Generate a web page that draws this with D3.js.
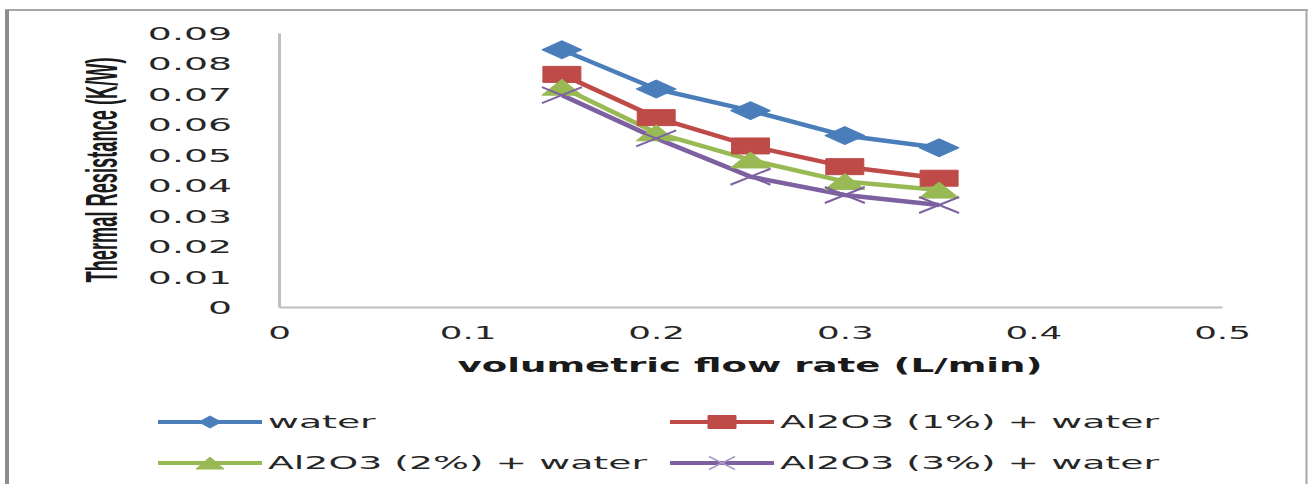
<!DOCTYPE html>
<html><head><meta charset="utf-8">
<script src="https://cdn.jsdelivr.net/npm/d3@7"></script>
<style>html,body{margin:0;padding:0;background:#fff;}svg{display:block;}</style>
</head><body>
<script>
// ---- data ----
const flowRates = [0.15, 0.20, 0.25, 0.30, 0.35];
const seriesNames = ["water", "Al2O3 (1%) + water", "Al2O3 (2%) + water", "Al2O3 (3%) + water"];
const waterValues = [0.0845, 0.0716, 0.0645, 0.0563, 0.0523];
const al1Values   = [0.0764, 0.0622, 0.0529, 0.0461, 0.0423];
const al2Values   = [0.0722, 0.0572, 0.0483, 0.0412, 0.0384];
const al3Values   = [0.0696, 0.0554, 0.0428, 0.0368, 0.0335];
const xTicks = [0, 0.1, 0.2, 0.3, 0.4, 0.5];
const yTicks = [0, 0.01, 0.02, 0.03, 0.04, 0.05, 0.06, 0.07, 0.08, 0.09];
const xTitle = "volumetric flow rate (L/min)";
const yTitle = "Thermal Resistance (K/W)";

const W = 1308, H = 484;
const colors = ["#4A7EBB", "#BE4B48", "#98B954", "#7D60A0"];
const markers = ["diamond", "square", "triangle", "x"];
const allValues = [waterValues, al1Values, al2Values, al3Values];

const svg = d3.select("body").append("svg").attr("width", W).attr("height", H);
svg.append("rect").attr("width", W).attr("height", H).attr("fill", "#fff");

// outer border
svg.append("line").attr("x1", 5).attr("x2", W).attr("y1", 10).attr("y2", 10).attr("stroke", "#a6a6a6").attr("stroke-width", 2);
svg.append("line").attr("x1", 7).attr("x2", 7).attr("y1", 10).attr("y2", H).attr("stroke", "#8c8c8c").attr("stroke-width", 4);
svg.append("line").attr("x1", 1306.5).attr("x2", 1306.5).attr("y1", 10).attr("y2", H).attr("stroke", "#a6a6a6").attr("stroke-width", 2);

const x = d3.scaleLinear().domain([0, 0.5]).range([279, 1222]);
const y = d3.scaleLinear().domain([0, 0.09]).range([307, 33]);

const SX = 2.1;
const FONT = "'DejaVu Sans', Verdana, sans-serif";

// y axis
const gy = svg.append("g").attr("transform", "translate(279,0)")
  .call(d3.axisLeft(y).tickValues(yTicks).tickSize(0).tickPadding(0)
    .tickFormat(d => d === 0 ? "0" : d3.format(".2f")(d)));
gy.select(".domain").attr("stroke", "#bfbfbf").attr("stroke-width", 3);
gy.selectAll("text").attr("font-family", FONT).attr("font-size", 18).attr("fill", "#262626")
  .attr("text-anchor", "end").attr("x", -47 / SX).attr("dy", "0.36em")
  .attr("transform", `scale(${SX},1)`);

// x axis
const gx = svg.append("g").attr("transform", "translate(0,307)")
  .call(d3.axisBottom(x).tickValues(xTicks).tickSize(0).tickPadding(0)
    .tickFormat(d => d === 0 ? "0" : d3.format(".1f")(d)));
gx.select(".domain").attr("stroke", "#bfbfbf").attr("stroke-width", 2);
gx.selectAll("text").attr("font-family", FONT).attr("font-size", 17).attr("fill", "#262626")
  .attr("text-anchor", "middle").attr("x", 0).attr("y", 26).attr("dy", "0.36em")
  .attr("transform", `scale(${SX},1)`);

// titles
svg.append("text").attr("x", 750).attr("y", 372).attr("text-anchor", "middle")
  .attr("font-family", FONT).attr("font-weight", "bold").attr("font-size", 19)
  .attr("fill", "#1a1a1a").attr("textLength", 585).attr("lengthAdjust", "spacingAndGlyphs")
  .text(xTitle);

svg.append("text").attr("transform", "translate(117,170) scale(2.6,1) rotate(-90)")
  .attr("text-anchor", "middle")
  .attr("font-family", "'Liberation Sans', Arial, sans-serif").attr("font-weight", "bold").attr("font-size", 17)
  .attr("fill", "#1a1a1a").attr("textLength", 225).attr("lengthAdjust", "spacingAndGlyphs")
  .text(yTitle);

// marker path builder (w = width, h = height)
function markerPath(type, w, h) {
  const a = w / 2, b = h / 2;
  if (type === "diamond") return `M${-a},0L0,${-b}L${a},0L0,${b}Z`;
  if (type === "square") return `M${-a},${-b}H${a}V${b}H${-a}Z`;
  if (type === "triangle") return `M${-a},${b}L0,${-b}L${a},${b}Z`;
  return `M${-a},${-b}L${a},${b}M${-a},${b}L${a},${-b}`;
}

const line = d3.line().x((d, i) => x(flowRates[i])).y(d => y(d));

allValues.forEach((vals, si) => {
  svg.append("path").datum(vals).attr("d", line).attr("fill", "none")
    .attr("stroke", colors[si]).attr("stroke-width", 4.5).attr("stroke-linejoin", "round");
});
allValues.forEach((vals, si) => {
  const mt = markers[si];
  const dims = {diamond: [40, 18], square: [38, 16], triangle: [40, 16], x: [40, 16]}[mt];
  svg.append("g").selectAll("path").data(vals).join("path")
    .attr("transform", (d, i) => `translate(${x(flowRates[i])},${y(d)})`)
    .attr("d", markerPath(mt, dims[0], dims[1]))
    .attr("fill", mt === "x" ? "none" : colors[si])
    .attr("stroke", colors[si]).attr("stroke-width", mt === "x" ? 2 : 1);
});

// legend
const legendPos = [[158, 422], [670, 422], [158, 463], [670, 463]];
const legendDims = {diamond: [22, 12], square: [28, 13], triangle: [28, 12], x: [26, 13]};
seriesNames.forEach((name, si) => {
  const [lx, ly] = legendPos[si];
  const g = svg.append("g").attr("transform", `translate(${lx},${ly})`);
  g.append("line").attr("x1", 0).attr("x2", 104).attr("y1", 0).attr("y2", 0)
    .attr("stroke", colors[si]).attr("stroke-width", 4);
  const mt = markers[si];
  const dm = legendDims[mt];
  g.append("path").attr("transform", "translate(52,0)").attr("d", markerPath(mt, dm[0], dm[1]))
    .attr("fill", mt === "x" ? "none" : colors[si])
    .attr("stroke", mt === "x" ? "#a999c8" : colors[si]).attr("stroke-width", mt === "x" ? 1.5 : 1);
  g.append("text").attr("transform", `translate(110,0) scale(${SX},1)`)
    .attr("dy", "0.36em").attr("font-family", FONT).attr("font-size", 18).attr("fill", "#262626")
    .text(name);
});
</script>
</body></html>
